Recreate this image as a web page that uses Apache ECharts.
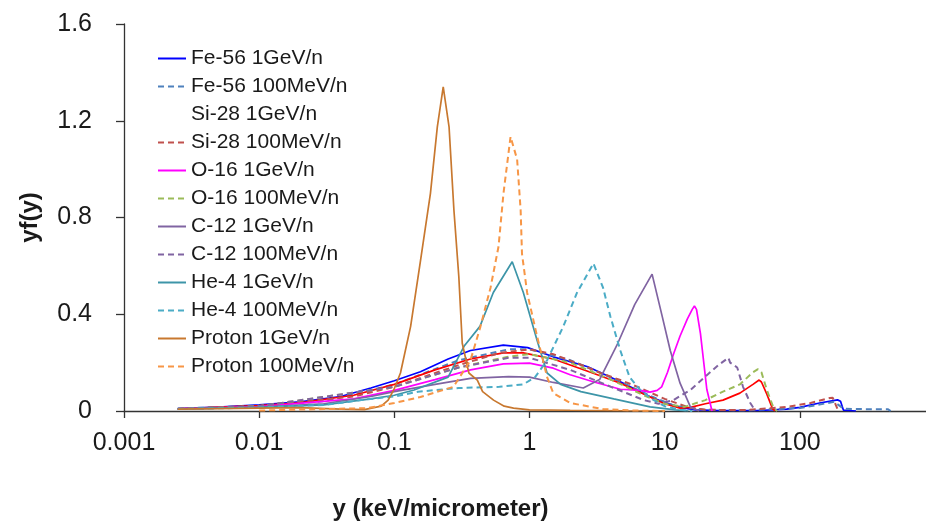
<!DOCTYPE html>
<html><head><meta charset="utf-8">
<script src="https://cdn.jsdelivr.net/npm/echarts/dist/echarts.min.js"></script>
<style>html,body{margin:0;padding:0;background:#fff}#c{width:926px;height:529px}</style>
</head><body><div id="c"></div>
<script>
// ---- data ----
const seriesNames = ['Fe-56 1GeV/n','Fe-56 100MeV/n','Si-28 1GeV/n','Si-28 100MeV/n','O-16 1GeV/n','O-16 100MeV/n','C-12 1GeV/n','C-12 100MeV/n','He-4 1GeV/n','He-4 100MeV/n','Proton 1GeV/n','Proton 100MeV/n'];
const xTickLabels = ['0.001','0.01','0.1','1','10','100'];
const yTickLabels = ['0','0.4','0.8','1.2','1.6'];

const xFe1 = [0.0025,0.005,0.01,0.02,0.04,0.067,0.1,0.156,0.25,0.366,0.64,0.97,1.5,2.7,4.7,7.8,10,13,17,25,50,80,100,140,190,200,210,260];
const yFe1 = [0.010,0.016,0.025,0.038,0.060,0.095,0.125,0.162,0.215,0.250,0.272,0.262,0.224,0.183,0.121,0.059,0.035,0.015,0.005,0.002,0.002,0.008,0.015,0.033,0.046,0.040,0.004,0];

const xFe100 = [0.0025,0.01,0.03,0.1,0.3,0.7,1,2,4,8,12,20,40,100,180,210,250,450,470];
const yFe100 = [0.010,0.022,0.040,0.110,0.210,0.255,0.255,0.210,0.140,0.060,0.020,0.005,0.003,0.012,0.038,0.010,0.008,0.007,0];

const xSi1 = [0.0025,0.01,0.02,0.05,0.1,0.2,0.366,0.64,0.9,1.5,2,3,4.7,7.8,10,13,15.5,20,27,36,45,50,52,57,63,66];
const ySi1 = [0.009,0.022,0.034,0.065,0.110,0.170,0.215,0.240,0.240,0.215,0.190,0.155,0.115,0.058,0.030,0.012,0.015,0.030,0.045,0.074,0.110,0.128,0.120,0.070,0.008,0];

const xSi100 = [0.0025,0.01,0.05,0.1,0.3,0.6,1,1.5,2.7,3.35,4.7,6.3,10,15,20,40,80,120,167,175,190,200];
const ySi100 = [0.008,0.020,0.060,0.100,0.190,0.240,0.255,0.235,0.180,0.157,0.128,0.100,0.050,0.015,0.005,0.004,0.017,0.033,0.054,0.055,0.008,0];

const xO1 = [0.0025,0.01,0.05,0.1,0.2,0.366,0.64,1,1.5,2,3,4.7,6.6,7.8,8.8,9.5,10.5,11.7,13,14.7,16,16.6,17.2,18.4,20.5,22.4];
const yO1 = [0.009,0.018,0.050,0.085,0.130,0.170,0.195,0.198,0.177,0.150,0.120,0.090,0.085,0.078,0.085,0.100,0.160,0.240,0.310,0.380,0.420,0.434,0.420,0.320,0.090,0];

const xO100 = [0.0025,0.01,0.1,0.3,0.7,1,2,4,7,10,14,20,27,36,45,49,52,57,64,68];
const yO100 = [0.008,0.020,0.100,0.180,0.225,0.235,0.200,0.130,0.065,0.030,0.017,0.045,0.080,0.110,0.160,0.173,0.160,0.087,0.012,0];

const xC1 = [0.0025,0.01,0.03,0.067,0.1,0.2,0.366,0.7,1,1.5,2.5,3.3,4.5,6,8.07,9.6,11,13,15.5,18];
const yC1 = [0.008,0.016,0.030,0.060,0.080,0.110,0.135,0.142,0.140,0.118,0.095,0.130,0.280,0.440,0.566,0.390,0.250,0.115,0.017,0];

const xC100 = [0.0025,0.01,0.1,0.3,0.7,1,2,4,7,9,11.6,15.5,20.7,25,29.6,30.5,34.4,38,43,47];
const yC100 = [0.008,0.020,0.100,0.180,0.220,0.220,0.170,0.100,0.045,0.030,0.045,0.087,0.150,0.190,0.220,0.200,0.180,0.100,0.033,0];

const xHe1 = [0.0025,0.01,0.03,0.067,0.1,0.14,0.25,0.33,0.43,0.54,0.745,0.9,1.14,1.35,1.7,2.4,4.2,7.8,12,15];
const yHe1 = [0.009,0.015,0.025,0.050,0.065,0.087,0.140,0.270,0.350,0.490,0.617,0.490,0.290,0.157,0.110,0.080,0.050,0.017,0.005,0];

const xHe100 = [0.0025,0.01,0.03,0.067,0.1,0.15,0.3,0.6,0.9,1.1,1.35,1.78,2.25,2.97,3.5,3.97,4.7,5.5,6.6,8,10,13,16];
const yHe100 = [0.008,0.014,0.025,0.050,0.060,0.080,0.095,0.100,0.110,0.140,0.210,0.350,0.490,0.610,0.510,0.390,0.250,0.140,0.087,0.050,0.020,0.005,0];

const xP1 = [0.0025,0.01,0.02,0.04,0.06,0.08,0.09,0.099,0.111,0.132,0.156,0.185,0.208,0.23,0.254,0.276,0.3,0.318,0.356,0.411,0.45,0.542,0.65,0.762,1,2,5,10];
const yP1 = [0.008,0.012,0.014,0.008,0.006,0.020,0.045,0.087,0.157,0.350,0.620,0.900,1.175,1.340,1.175,0.830,0.555,0.280,0.157,0.128,0.080,0.045,0.020,0.012,0.005,0.003,0.001,0];

const xP100 = [0.01,0.0635,0.1,0.156,0.274,0.366,0.434,0.515,0.59,0.642,0.724,0.81,0.86,0.88,0.96,1.14,1.35,1.5,2,3.5,6,10];
const yP100 = [0.002,0.012,0.033,0.058,0.100,0.210,0.350,0.510,0.680,0.900,1.134,1.040,0.830,0.650,0.490,0.307,0.140,0.074,0.033,0.008,0.002,0];

const xs = [xFe1,xFe100,xSi1,xSi100,xO1,xO100,xC1,xC100,xHe1,xHe100,xP1,xP100];
const ys = [yFe1,yFe100,ySi1,ySi100,yO1,yO100,yC1,yC100,yHe1,yHe100,yP1,yP100];

// ---- styles ----
const colors = ['#0000FF','#4F81BD','#FF0000','#C0504D','#FF00FF','#9BBB59','#8064A2','#8064A2','#3D95A8','#4BACC6','#C8782F','#F79646'];
const dashed = [false,true,false,true,false,true,false,true,false,true,false,true];
const FONT = '"Liberation Sans", Arial, sans-serif';

const chart = echarts.init(document.getElementById('c'), null, {renderer:'canvas'});
const series = seriesNames.map((n,i)=>({
  name:n, type:'line', symbol:'none', showSymbol:false, smooth:false, animation:false,
  data: xs[i].map((x,j)=>[x, ys[i][j]]),
  lineStyle:{color:colors[i], width: dashed[i]?2:1.7, type: dashed[i]?[6,4]:'solid'},
  itemStyle:{color:colors[i]}
}));

chart.setOption({
  animation:false,
  backgroundColor:'#fff',
  grid:{left:124, top:24, bottom:118, right:-9, containLabel:false, outerBoundsMode:'none'},
  legend:{
    orient:'vertical', left:152, top:43, itemWidth:28, itemHeight:14, itemGap:7,
    itemStyle:{opacity:0},
    textStyle:{fontFamily:FONT, fontSize:21, lineHeight:21, color:'#1a1a1a'},
    data: seriesNames.map((n,i)=> i===2 ? {name:n, itemStyle:{opacity:0}, lineStyle:{opacity:0}} : {name:n})
  },
  xAxis:{
    type:'log', logBase:10, min:0.001, max:1000,
    name:'y (keV/micrometer)', nameLocation:'middle', nameGap:86,
    nameTextStyle:{fontFamily:FONT, fontSize:24, fontWeight:'bold', color:'#1a1a1a', padding:[0,178,0,0]},
    axisLine:{show:true, onZero:false, lineStyle:{color:'#333', width:1.3}},
    axisTick:{show:true, inside:false, length:7, lineStyle:{color:'#333', width:1.3}},
    axisLabel:{fontFamily:FONT, fontSize:25, color:'#1a1a1a', margin:20,
      formatter:(v)=>{const k=Math.round(Math.log10(v))+3; return xTickLabels[k]!==undefined?xTickLabels[k]:'';}},
    splitLine:{show:false}, minorTick:{show:false}
  },
  yAxis:{
    type:'value', min:0, max:1.6, interval:0.4,
    name:'yf(y)', nameLocation:'middle', nameGap:82, nameRotate:90,
    nameTextStyle:{fontFamily:FONT, fontSize:24, fontWeight:'bold', color:'#1a1a1a'},
    axisLine:{show:true, lineStyle:{color:'#333', width:1.3}},
    axisTick:{show:true, inside:false, length:8, lineStyle:{color:'#333', width:1.3}},
    axisLabel:{fontFamily:FONT, fontSize:25, color:'#1a1a1a', margin:32,
      formatter:(v)=>{const k=Math.round(v/0.4); return yTickLabels[k]!==undefined?yTickLabels[k]:'';}},
    splitLine:{show:false}
  },
  series: series
});
</script>
</body></html>
